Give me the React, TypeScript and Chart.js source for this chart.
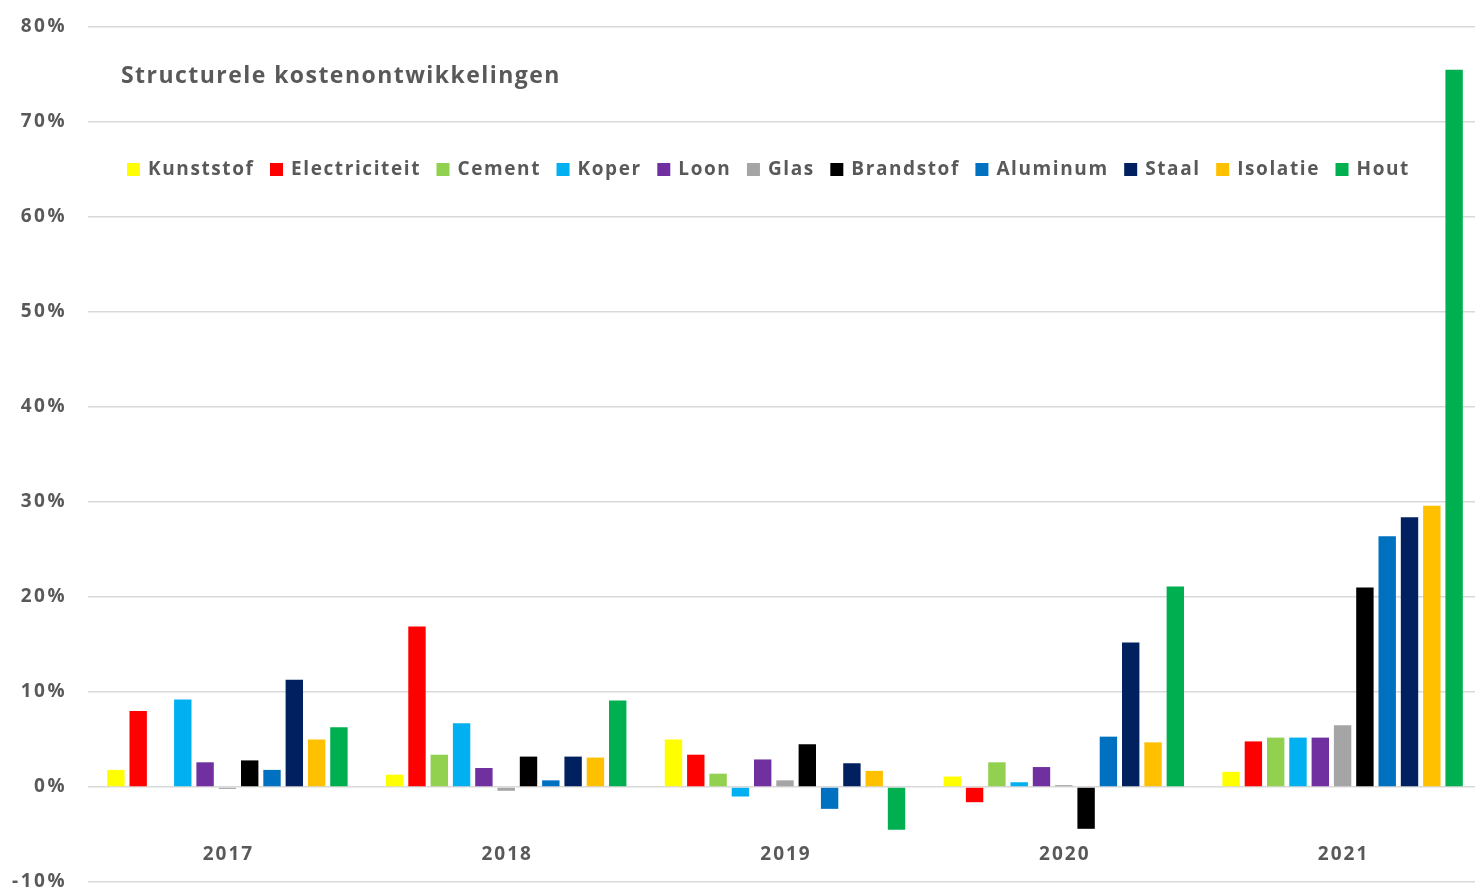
import React, { useEffect, useRef } from "react";
import { Chart, registerables } from "chart.js";

Chart.register(...registerables);

const titleText = "Structurele kostenontwikkelingen";
const years = ["2017", "2018", "2019", "2020", "2021"];

const seriesNames = [
  "Kunststof",
  "Electriciteit",
  "Cement",
  "Koper",
  "Loon",
  "Glas",
  "Brandstof",
  "Aluminum",
  "Staal",
  "Isolatie",
  "Hout",
];

const seriesColors = [
  "#FFFF00",
  "#FF0000",
  "#92D050",
  "#00B0F0",
  "#7030A0",
  "#A5A5A5",
  "#000000",
  "#0070C0",
  "#002060",
  "#FFC000",
  "#00B050",
];

const kunststof = [1.8, 1.3, 5.0, 1.1, 1.6];
const electriciteit = [8.0, 16.9, 3.4, -1.6, 4.8];
const cement = [0, 3.4, 1.4, 2.6, 5.2];
const koper = [9.2, 6.7, -1.0, 0.5, 5.2];
const loon = [2.6, 2.0, 2.9, 2.1, 5.2];
const glas = [-0.2, -0.4, 0.7, 0.2, 6.5];
const brandstof = [2.8, 3.2, 4.5, -4.4, 21.0];
const aluminum = [1.8, 0.7, -2.3, 5.3, 26.4];
const staal = [11.3, 3.2, 2.5, 15.2, 28.4];
const isolatie = [5.0, 3.1, 1.7, 4.7, 29.6];
const hout = [6.3, 9.1, -4.5, 21.1, 75.5];

const seriesValues = [
  kunststof,
  electriciteit,
  cement,
  koper,
  loon,
  glas,
  brandstof,
  aluminum,
  staal,
  isolatie,
  hout,
];

const yMin = -10;
const yMax = 80;
const yStep = 10;

const TEXT = "#595959";
const FONT = '"Open Sans", "DejaVu Sans", sans-serif';

const overlayPlugin = {
  id: "overlay",
  beforeDraw(chart: any) {
    chart.ctx.letterSpacing = "2.5px";
  },
  afterDraw(chart: any) {
    const ctx = chart.ctx;
    ctx.save();
    ctx.textBaseline = "middle";
    ctx.textAlign = "left";
    // title
    ctx.fillStyle = TEXT;
    ctx.font = `bold 23px ${FONT}`;
    ctx.letterSpacing = "1.45px";
    ctx.fillText(titleText, 121, 76);
    // legend
    ctx.font = `bold 19px ${FONT}`;
    ctx.letterSpacing = "1.6px";
    let x = 127;
    chart.data.datasets.forEach((ds: any) => {
      ctx.fillStyle = ds.backgroundColor;
      ctx.fillRect(x, 163, 13, 13);
      x += 13 + 8;
      ctx.fillStyle = TEXT;
      ctx.fillText(ds.label, x, 170);
      x += ctx.measureText(ds.label).width + 15.5;
    });
    // category labels
    const xs = chart.scales.x;
    ctx.textAlign = "center";
    ctx.font = `bold 19px ${FONT}`;
    ctx.letterSpacing = "2px";
    ctx.fillStyle = TEXT;
    chart.data.labels.forEach((l: string, i: number) => {
      ctx.fillText(l, xs.getPixelForValue(i) + 1, 855);
    });
    ctx.restore();
  },
};

export default function App() {
  const canvasRef = useRef<HTMLCanvasElement | null>(null);

  useEffect(() => {
    if (!canvasRef.current) return;
    const chart = new Chart(canvasRef.current, {
      type: "bar",
      data: {
        labels: years,
        datasets: seriesNames.map((name, i) => ({
          label: name,
          data: seriesValues[i],
          backgroundColor: seriesColors[i],
          borderWidth: 0,
          categoryPercentage: 0.88,
          barPercentage: 0.78,
        })),
      },
      options: {
        animation: false,
        responsive: false,
        maintainAspectRatio: false,
        devicePixelRatio: 1,
        layout: { padding: { top: 27, bottom: 6, left: 0, right: 2 } },
        plugins: {
          legend: { display: false },
          title: { display: false },
          tooltip: { enabled: false },
        },
        scales: {
          x: {
            display: false,
            grid: { display: false },
          },
          y: {
            min: yMin,
            max: yMax,
            border: { display: false },
            grid: {
              color: "#d9d9d9",
              lineWidth: 1.5,
              drawTicks: false,
            },
            ticks: {
              stepSize: yStep,
              color: TEXT,
              padding: 21,
              font: { family: FONT, size: 19, weight: "bold" },
              callback: (v: any) => `${v}%`,
            },
            afterFit: (scale: any) => {
              scale.width = 88;
              scale.paddingTop = 0;
              scale.paddingBottom = 0;
            },
          },
        },
      },
      plugins: [overlayPlugin],
    });
    return () => chart.destroy();
  }, []);

  return (
    <div
      style={{
        position: "fixed",
        left: 0,
        top: 0,
        width: 1475,
        height: 888,
        overflow: "hidden",
        background: "#ffffff",
      }}
    >
      <canvas
        ref={canvasRef}
        width={1484}
        height={888}
        style={{ display: "block", width: 1484, height: 888 }}
      />
    </div>
  );
}
